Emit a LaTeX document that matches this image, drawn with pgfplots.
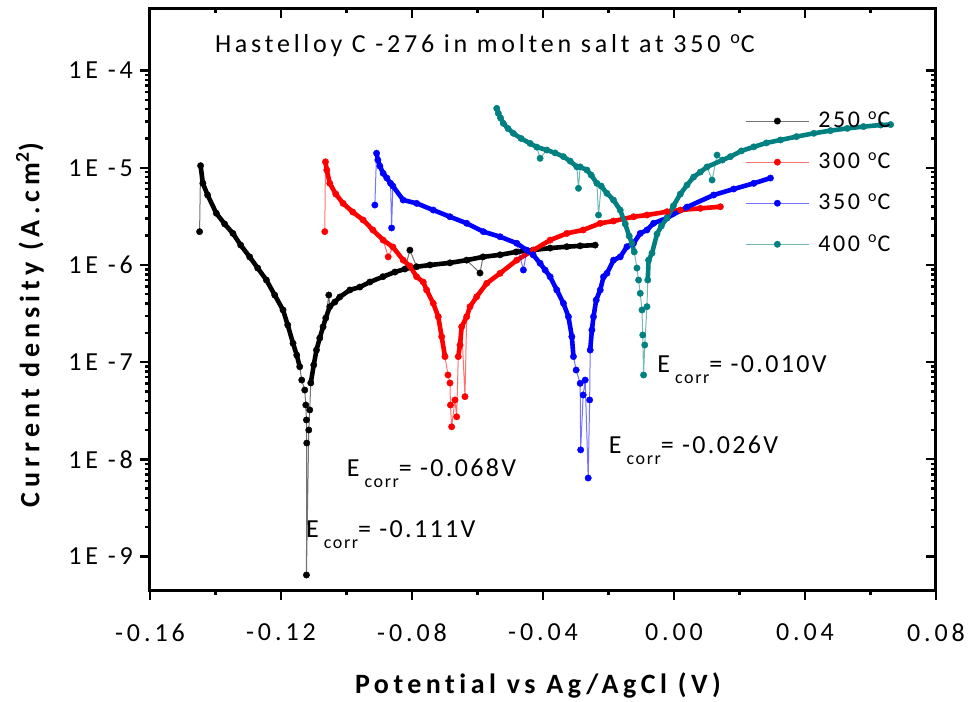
\documentclass[border=0pt]{standalone}
\usepackage{fontspec}
\setmainfont{Carlito}[LetterSpace=11, Ligatures=NoCommon]
\usepackage{pgfplots}
\pgfplotsset{compat=1.18}
\usepackage{pgfplotstable}
\definecolor{tealc}{RGB}{0,128,128}
\definecolor{redc}{RGB}{255,0,0}
\definecolor{bluec}{RGB}{0,0,255}

\pgfplotstableread{
x y
-0.14486 2.20e-6
-0.14455 1.05e-5
-0.14385 6.91e-6
-0.14241 5.24e-6
-0.13975 3.40e-6
-0.13721 2.64e-6
-0.13467 2.11e-6
-0.13232 1.60e-6
-0.12957 1.21e-6
-0.12712 9.29e-7
-0.12446 6.99e-7
-0.12192 4.90e-7
-0.11938 3.44e-7
-0.11795 2.41e-7
-0.11632 1.56e-7
-0.11519 1.18e-7
-0.11428 8.97e-8
-0.11367 6.54e-8
-0.11275 5.16e-8
-0.11244 3.62e-8
-0.11223 2.54e-8
-0.11214 1.47e-8
-0.11223 6.45e-10
-0.11152 2.00e-8
-0.11122 3.22e-8
-0.11091 6.10e-8
-0.11000 9.34e-8
-0.10917 1.33e-7
-0.10816 1.77e-7
-0.10715 2.31e-7
-0.10633 2.84e-7
-0.10541 4.90e-7
-0.10510 3.72e-7
-0.10357 4.15e-7
-0.10204 4.68e-7
-0.09899 5.52e-7
-0.09593 5.92e-7
-0.09287 6.67e-7
-0.08889 7.56e-7
-0.08522 8.45e-7
-0.08217 9.07e-7
-0.08064 1.42e-6
-0.07859 9.58e-7
-0.07452 9.98e-7
-0.06841 1.05e-6
-0.06330 1.12e-6
-0.05923 8.25e-7
-0.05831 1.21e-6
-0.05311 1.27e-6
-0.04822 1.36e-6
-0.04302 1.42e-6
-0.03782 1.49e-6
-0.03272 1.54e-6
-0.02865 1.57e-6
-0.02406 1.60e-6
}\blk

\pgfplotstableread{
x y
-0.10663 2.20e-6
-0.10642 1.15e-5
-0.10602 9.47e-6
-0.10510 6.91e-6
-0.10327 5.36e-6
-0.10104 4.30e-6
-0.09807 3.50e-6
-0.09492 2.90e-6
-0.09195 2.29e-6
-0.08880 1.80e-6
-0.08727 1.21e-6
-0.08584 1.53e-6
-0.08269 1.12e-6
-0.08064 9.74e-7
-0.07859 7.56e-7
-0.07657 6.67e-7
-0.07553 5.52e-7
-0.07351 4.03e-7
-0.07198 2.93e-7
-0.07094 1.83e-7
-0.06993 1.14e-7
-0.06902 7.37e-8
-0.06841 6.10e-8
-0.06826 3.62e-8
-0.06789 2.16e-8
-0.06688 4.08e-8
-0.06636 2.74e-8
-0.06587 1.14e-7
-0.06535 1.50e-7
-0.06483 2.31e-7
-0.06382 4.41e-8
-0.06330 2.93e-7
-0.06229 3.72e-7
-0.06024 4.71e-7
-0.05718 6.47e-7
-0.05311 8.20e-7
-0.04801 1.12e-6
-0.04293 1.42e-6
-0.03782 1.80e-6
-0.03272 2.11e-6
-0.02773 2.29e-6
-0.02253 2.68e-6
-0.01847 2.83e-6
-0.01235 3.13e-6
-0.00825 3.26e-6
-0.00214 3.53e-6
0.00193 3.67e-6
0.00805 3.82e-6
0.01416 3.97e-6
}\redt

\pgfplotstableread{
x y
-0.09134 4.13e-6
-0.09082 1.41e-5
-0.09042 1.20e-5
-0.08981 1.04e-5
-0.08880 8.76e-6
-0.08767 7.83e-6
-0.08654 6.91e-6
-0.08623 2.40e-6
-0.08584 6.48e-6
-0.08269 4.65e-6
-0.07859 4.30e-6
-0.07351 3.67e-6
-0.06841 3.13e-6
-0.06330 2.68e-6
-0.05822 2.20e-6
-0.05311 1.95e-6
-0.04801 1.67e-6
-0.04599 8.86e-7
-0.04495 1.42e-6
-0.04302 1.27e-6
-0.04088 1.04e-6
-0.03935 8.86e-7
-0.03782 7.56e-7
-0.03578 5.52e-7
-0.03376 4.03e-7
-0.03223 2.93e-7
-0.03119 1.83e-7
-0.03070 1.14e-7
-0.02987 8.29e-8
-0.02865 6.05e-8
-0.02850 1.25e-8
-0.02773 4.59e-8
-0.02712 6.54e-8
-0.02620 6.42e-9
-0.02575 4.08e-8
-0.02559 1.33e-7
-0.02507 2.14e-7
-0.02458 2.93e-7
-0.02376 4.35e-7
-0.02253 5.52e-7
-0.02152 7.56e-7
-0.02048 8.20e-7
-0.01847 1.12e-6
-0.01642 1.21e-6
-0.01437 1.54e-6
-0.01235 1.67e-6
-0.01030 2.11e-6
-0.00825 2.29e-6
-0.00623 2.68e-6
-0.00214 3.04e-6
0.00398 3.94e-6
0.01211 5.24e-6
0.01823 6.04e-6
0.02435 6.91e-6
0.02945 7.83e-6
}\blut

\pgfplotstableread{
x y
-0.05412 4.08e-5
-0.05363 3.63e-5
-0.05296 3.25e-5
-0.05211 2.86e-5
-0.05067 2.53e-5
-0.04905 2.26e-5
-0.04669 2.00e-5
-0.04394 1.78e-5
-0.04189 1.63e-5
-0.04088 1.25e-5
-0.03883 1.52e-5
-0.03630 1.42e-5
-0.03376 1.30e-5
-0.03171 1.17e-5
-0.02966 1.02e-5
-0.02917 6.14e-6
-0.02865 1.02e-5
-0.02660 9.47e-6
-0.02529 8.41e-6
-0.02354 6.91e-6
-0.02305 3.26e-6
-0.02223 6.48e-6
-0.02048 5.45e-6
-0.01847 4.65e-6
-0.01642 3.67e-6
-0.01489 2.64e-6
-0.01367 1.98e-6
-0.01284 1.67e-6
-0.01214 1.36e-6
-0.01131 9.29e-7
-0.01082 6.99e-7
-0.01030 5.10e-7
-0.00978 3.44e-7
-0.00954 1.90e-7
-0.00929 7.37e-8
-0.00893 1.50e-7
-0.00825 3.72e-7
-0.00801 6.99e-7
-0.00776 1.12e-6
-0.00672 1.32e-6
-0.00519 2.08e-6
-0.00388 2.51e-6
-0.00214 3.04e-6
-0.00021 4.04e-6
0.00193 5.36e-6
0.00398 6.64e-6
0.00600 8.02e-6
0.00805 9.03e-6
0.01010 1.02e-5
0.01163 7.47e-6
0.01315 1.35e-5
0.01478 1.20e-5
0.01722 1.30e-5
0.02059 1.49e-5
0.02435 1.64e-5
0.02823 1.80e-5
0.03251 1.93e-5
0.03741 2.09e-5
0.04270 2.26e-5
0.04780 2.41e-5
0.05291 2.54e-5
0.05789 2.65e-5
0.06309 2.75e-5
0.06615 2.78e-5
}\teat

\pgfplotsset{
  ser/.style={color=#1, draw opacity=0.55, line width=0.5pt, mark=*, mark size=1.6pt,
    mark options={solid, fill=#1, draw=#1, draw opacity=1, fill opacity=1, line width=0.2pt}},
  band/.style={color=#1, line width=2.3pt, line join=round, line cap=round, no markers, forget plot},
}
\newcommand\ecorr[1]{E\hspace{2.5pt}\raisebox{-5.5pt}{\fontsize{9}{9}\selectfont corr}= #1}
\newcommand\tickfont{\fontsize{13}{13}\selectfont\addfontfeatures{LetterSpace=15}}
\newcommand\annfont{\fontsize{13}{13}\selectfont\addfontfeatures{LetterSpace=9}}

\begin{document}
\begin{tikzpicture}
\path[use as bounding box] (-75pt,-56pt) rectangle (410.5pt,295pt);
\begin{axis}[
  at={(0,0)}, anchor=south west,
  scale only axis, width=393pt, height=291pt,
  xmin=-0.16, xmax=0.08, ymode=log, ymin=4.52e-10, ymax=4.40e-4,
  xtick={-0.16,-0.12,-0.08,-0.04,0,0.04,0.08},
  xticklabels={-0.16,-0.12,-0.08,-0.04,0.00,0.04,0.08},
  minor xtick={-0.14,-0.10,-0.06,-0.02,0.02,0.06},
  ytick={1e-9,1e-8,1e-7,1e-6,1e-5,1e-4},
  yticklabels={1E -9,1E -8,1E -7,1E -6,1E -5,1E -4},
  xtick pos=left, ytick pos=left,
  tick align=outside,
  major tick length=5pt, minor tick length=2.5pt,
  every tick/.style={black, line width=1.2pt},
  axis line style={line width=1.5pt},
  xticklabel style={font=\tickfont, yshift=-8.5pt},
  yticklabel style={font=\tickfont},
  xlabel={Potential vs Ag/AgCl (V)},
  ylabel={Current density (A.cm\textsuperscript{2})},
  xlabel style={font=\fontsize{14}{14}\selectfont\bfseries\addfontfeatures{LetterSpace=16},
    at={(axis description cs:0.4936,-0.1632)}, anchor=center},
  ylabel style={font=\fontsize{14}{14}\selectfont\bfseries\addfontfeatures{LetterSpace=18},
    at={(axis description cs:-0.1527,0.455)}, anchor=center},
  legend cell align=left,
  legend style={at={(axis description cs:0.757,0.83)}, anchor=north west,
    draw=none, fill=none, inner sep=0pt, row sep=6.8pt,
    font=\fontsize{12}{12}\selectfont,
    /tikz/every odd column/.append style={column sep=2.5pt}},
  legend image code/.code={\draw[mark repeat=2,mark phase=2,#1] plot coordinates {(0pt,0pt) (15.75pt,0pt) (31.5pt,0pt)};},
]
\addplot[band=black, skip coords between index={0}{1}, skip coords between index={17}{100}] table {\blk};
\addplot[band=black, skip coords between index={0}{25},
  skip coords between index={31}{32}, skip coords between index={41}{42}, skip coords between index={46}{47}] table {\blk};
\addplot[ser=black] table {\blk};
\addlegendentry{250 \textsuperscript{o}C}
\addplot[band=redc, skip coords between index={0}{1}, skip coords between index={10}{11},
  skip coords between index={21}{100}] table {\redt};
\addplot[band=redc, skip coords between index={0}{27}, skip coords between index={30}{31}] table {\redt};
\addplot[ser=redc] table {\redt};
\addlegendentry{300 \textsuperscript{o}C}
\addplot[band=bluec, skip coords between index={0}{1}, skip coords between index={7}{8},
  skip coords between index={17}{18}, skip coords between index={28}{100}] table {\blut};
\addplot[band=bluec, skip coords between index={0}{35}] table {\blut};
\addplot[ser=bluec] table {\blut};
\addlegendentry{350 \textsuperscript{o}C}
\addplot[band=tealc, skip coords between index={9}{10}, skip coords between index={15}{16},
  skip coords between index={20}{21}, skip coords between index={29}{100}] table {\teat};
\addplot[band=tealc, skip coords between index={0}{37}, skip coords between index={49}{51}] table {\teat};
\addplot[ser=tealc] table {\teat};
\addlegendentry{400 \textsuperscript{o}C}

\node[anchor=base west, inner sep=0pt, font=\fontsize{13}{13}\selectfont\addfontfeatures{LetterSpace=14.5}] at (axis cs:-0.14027,1.55e-4) {Hastelloy C -276 in molten salt at 350 \textsuperscript{o}C};
\node[anchor=base west, inner sep=0pt, font=\annfont] at (axis cs:-0.11244,1.55e-9) {\ecorr{-0.111V}};
\node[anchor=base west, inner sep=0pt, font=\annfont] at (axis cs:-0.1000,6.62e-9) {\ecorr{-0.068V}};
\node[anchor=base west, inner sep=0pt, font=\annfont] at (axis cs:-0.0200,1.16e-8) {\ecorr{-0.026V}};
\node[anchor=base west, inner sep=0pt, font=\annfont] at (axis cs:-0.00519,7.73e-8) {\ecorr{-0.010V}};
\end{axis}
\begin{axis}[
  at={(0,0)}, anchor=south west,
  scale only axis, width=393pt, height=291pt,
  xmin=-0.16, xmax=0.08, ymode=log, ymin=4.52e-10, ymax=4.40e-4,
  xtick={-0.16,-0.12,-0.08,-0.04,0,0.04,0.08},
  minor xtick={-0.14,-0.10,-0.06,-0.02,0.02,0.06},
  ytick={1e-9,1e-8,1e-7,1e-6,1e-5,1e-4},
  xticklabels={}, yticklabels={},
  xtick pos=right, ytick pos=right,
  tick align=inside,
  major tick length=5pt, minor tick length=2.5pt,
  every tick/.style={black, line width=1.2pt},
  axis line style={line width=1.5pt},
]
\end{axis}
\end{tikzpicture}
\end{document}
